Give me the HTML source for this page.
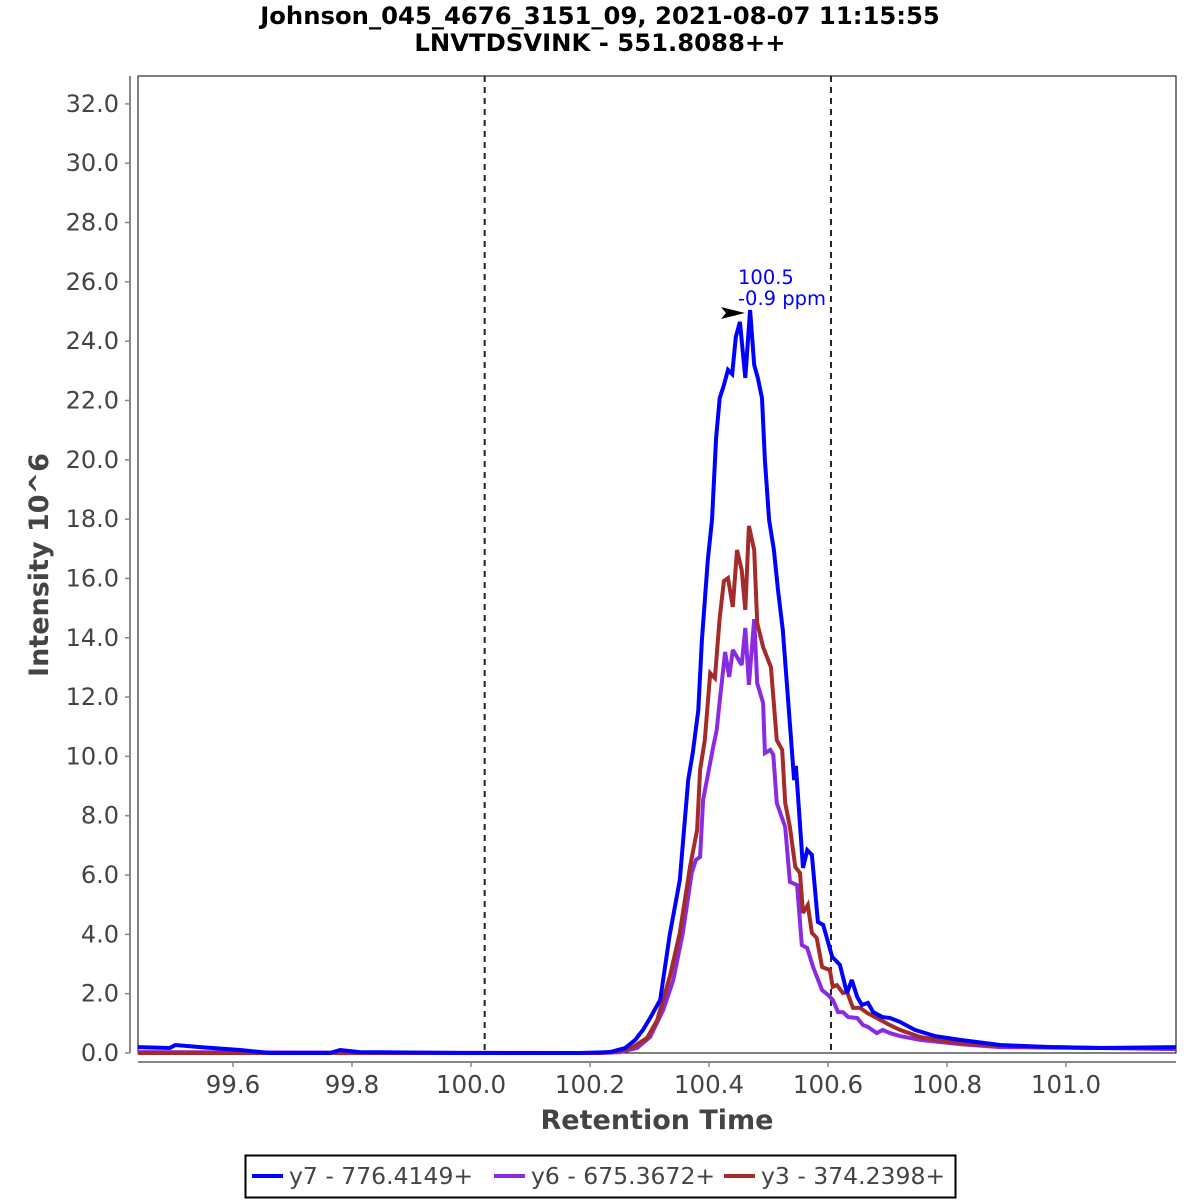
<!DOCTYPE html>
<html><head><meta charset="utf-8"><style>
body{margin:0;background:#fff;}
svg{display:block;font-family:"Liberation Sans","DejaVu Sans",sans-serif;}
</style></head><body>
<svg id="chart" width="1200" height="1200" viewBox="0 0 1200 1200" xmlns="http://www.w3.org/2000/svg">
<rect width="1200" height="1200" fill="#fff"/>
<text x="600" y="24" text-anchor="middle" font-size="24.3" font-weight="bold" font-family="DejaVu Sans, sans-serif">Johnson_045_4676_3151_09, 2021-08-07 11:15:55</text>
<text x="600" y="51" text-anchor="middle" font-size="24.3" font-weight="bold" font-family="DejaVu Sans, sans-serif">LNVTDSVINK - 551.8088++</text>
<rect x="138" y="76" width="1038" height="977" fill="#fff" stroke="#000" stroke-width="1"/>
<g id="yaxis"></g>
<g id="xaxis"></g>
<g id="series"></g>
<text transform="translate(48,565) rotate(-90)" text-anchor="middle" font-size="27" font-weight="bold" fill="#444" font-family="DejaVu Sans, sans-serif">Intensity 10^6</text>
<text x="657" y="1129" text-anchor="middle" font-size="27" font-weight="bold" fill="#444" font-family="DejaVu Sans, sans-serif">Retention Time</text>
<g>
<text x="738" y="284" font-size="19.5" fill="#0000ff" font-family="DejaVu Sans, sans-serif">100.5</text>
<text x="738" y="305" font-size="19.5" fill="#0000ff" font-family="DejaVu Sans, sans-serif">-0.9 ppm</text>
<polygon points="721,307 745,313 721,319 726,313" fill="#000"/>
</g>
<g>
<rect x="245.5" y="1155.5" width="710" height="42" fill="#fff" stroke="#000" stroke-width="2"/>
<line x1="252" y1="1176" x2="283" y2="1176" stroke="#0000ff" stroke-width="4"/>
<text x="289" y="1184" font-size="23.5" fill="#444" font-family="DejaVu Sans, sans-serif">y7 - 776.4149+</text>
<line x1="494" y1="1176" x2="525" y2="1176" stroke="#8a2be2" stroke-width="4"/>
<text x="531" y="1184" font-size="23.5" fill="#444" font-family="DejaVu Sans, sans-serif">y6 - 675.3672+</text>
<line x1="724" y1="1176" x2="755" y2="1176" stroke="#a52a2a" stroke-width="4"/>
<text x="761" y="1184" font-size="23.5" fill="#444" font-family="DejaVu Sans, sans-serif">y3 - 374.2398+</text>
</g>
</svg>
<script>
const yTicks = [0,2,4,6,8,10,12,14,16,18,20,22,24,26,28,30,32];
const xTicks = [99.6,99.8,100.0,100.2,100.4,100.6,100.8,101.0];
const boundaryRTs = [100.023,100.605];
const y7Times = [99.440,99.494,99.503,99.545,99.612,99.662,99.763,99.780,99.813,99.982,100.183,100.234,100.259,100.276,100.289,100.301,100.318,100.334,100.351,100.365,100.373,100.382,100.388,100.398,100.405,100.412,100.418,100.425,100.432,100.439,100.445,100.452,100.461,100.469,100.476,100.482,100.489,100.494,100.501,100.509,100.516,100.524,100.533,100.543,100.546,100.558,100.565,100.573,100.583,100.592,100.607,100.620,100.632,100.640,100.649,100.657,100.667,100.676,100.692,100.704,100.721,100.746,100.780,100.822,100.889,100.973,101.057,101.185];
const y7Values = [0.20,0.17,0.27,0.20,0.10,0,0,0.10,0.03,0,0,0.03,0.17,0.44,0.78,1.18,1.79,3.98,5.83,9.20,10.15,11.56,13.92,16.62,17.97,20.73,22.08,22.52,23.03,22.89,24.14,24.65,22.76,25.05,23.20,22.76,22.08,19.99,17.97,16.96,15.61,14.26,11.90,9.20,9.68,6.24,6.84,6.68,4.42,4.32,3.24,2.97,2.02,2.46,1.89,1.62,1.69,1.38,1.21,1.18,1.05,0.78,0.57,0.44,0.27,0.20,0.17,0.20];
const y3Times = [99.440,100.217,100.250,100.272,100.296,100.313,100.334,100.351,100.368,100.380,100.385,100.393,100.402,100.410,100.418,100.425,100.432,100.440,100.447,100.455,100.461,100.467,100.476,100.481,100.491,100.504,100.514,100.523,100.528,100.536,100.545,100.553,100.558,100.566,100.573,100.581,100.590,100.603,100.608,100.615,100.625,100.632,100.642,100.654,100.666,100.682,100.704,100.721,100.755,100.805,100.889,101.057,101.185];
const y3Values = [0,0,0.07,0.20,0.51,1.11,2.56,4.05,6.27,7.52,9.54,10.55,12.81,12.64,14.67,15.91,16.01,15.04,16.96,16.28,14.94,17.77,16.96,14.50,13.69,13.01,10.55,10.22,8.43,7.62,6.27,6.07,4.72,4.99,4.05,3.88,2.90,2.80,2.23,2.29,2.02,2.06,1.52,1.52,1.35,1.18,0.94,0.78,0.54,0.37,0.24,0.17,0.17];
const y6Times = [99.440,100.217,100.250,100.279,100.301,100.323,100.340,100.356,100.371,100.378,100.385,100.390,100.407,100.413,100.417,100.427,100.434,100.440,100.455,100.461,100.467,100.476,100.481,100.491,100.494,100.503,100.508,100.514,100.528,100.536,100.548,100.556,100.565,100.575,100.590,100.600,100.608,100.617,100.625,100.634,100.649,100.659,100.667,100.682,100.692,100.704,100.721,100.755,100.822,100.889,101.057,101.185];
const y6Values = [0.03,0,0.03,0.17,0.54,1.45,2.46,4.05,6.07,6.51,6.61,8.53,10.32,10.89,11.67,13.52,12.68,13.59,13.08,14.33,12.41,14.63,12.47,11.80,10.11,10.22,10.05,8.43,7.62,5.77,5.66,3.64,3.54,2.90,2.12,1.96,1.79,1.38,1.38,1.21,1.18,0.94,0.88,0.67,0.78,0.67,0.57,0.44,0.30,0.20,0.17,0.13];

const NS = "http://www.w3.org/2000/svg";
const L = 138, R = 1176, T = 76, B = 1053;
function xScale(t){ return 471 + (t - 100) * 595; }
function yScale(v){ return 1053 - v * 29.66; }
function mk(tag, attrs, parent){ const e = document.createElementNS(NS, tag); for (const k in attrs) e.setAttribute(k, attrs[k]); parent.appendChild(e); return e; }

const ya = document.getElementById('yaxis');
const yl = mk('line', {x1:130, y1:T, x2:130, y2:B, stroke:'#888', 'stroke-width':2}, ya);


yTicks.forEach(v => {
  const y = yScale(v);
  const tk = mk('line', {x1:125, y1:y, x2:130, y2:y, stroke:'#888', 'stroke-width':1.5}, ya);
  
  
  const tx = mk('text', {x:119, y:y + 8, 'text-anchor':'end', 'font-size':24, fill:'#444', 'font-family':'DejaVu Sans, sans-serif'}, ya);
  tx.textContent = v.toFixed(1);
  
  
});

const xa = document.getElementById('xaxis');
const xl = mk('line', {x1:L, y1:1062, x2:R, y2:1062, stroke:'#888', 'stroke-width':2}, xa);


xTicks.forEach(t => {
  const x = xScale(t);
  const tk = mk('line', {x1:x, y1:1062, x2:x, y2:1067, stroke:'#888', 'stroke-width':1.5}, xa);
  
  
  const tx = mk('text', {x:x, y:1093, 'text-anchor':'middle', 'font-size':24.5, fill:'#444', 'font-family':'DejaVu Sans, sans-serif'}, xa);
  tx.textContent = t.toFixed(1);
  
  
});

const sg = document.getElementById('series');
boundaryRTs.forEach(t => {
  const x = xScale(t);
  const d = mk('line', {x1:x, y1:T, x2:x, y2:B, stroke:'#222', 'stroke-width':2, 'stroke-dasharray':'6,5'}, sg);
  
  
});
function drawSeries(times, vals, color, name){
  const pts = times.map((t, i) => xScale(t).toFixed(1) + ',' + yScale(vals[i]).toFixed(1)).join(' ');
  const p = mk('polyline', {points:pts, fill:'none', stroke:color, 'stroke-width':4, 'stroke-linejoin':'miter', 'stroke-miterlimit':3}, sg);
  
  
}
drawSeries(y6Times, y6Values, '#8a2be2', 'series-y6');
drawSeries(y3Times, y3Values, '#a52a2a', 'series-y3');
drawSeries(y7Times, y7Values, '#0000ff', 'series-y7');
</script>
</body></html>
